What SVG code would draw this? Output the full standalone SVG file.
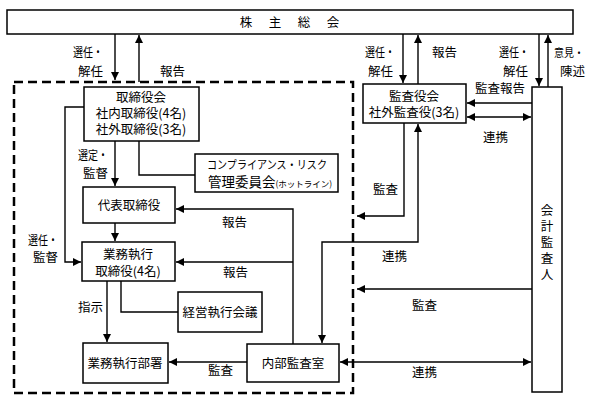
<svg xmlns="http://www.w3.org/2000/svg" width="589" height="404" viewBox="0 0 589 404">
<style>
text{font-family:"Noto Sans CJK JP","Noto Sans CJK SC",sans-serif;fill:#000}
.b{fill:#fff;stroke:#000;stroke-width:1.5}
.t{font-size:12.5px;text-anchor:middle}
.l{font-size:12.5px}
.c{fill:none;stroke:#000;stroke-width:1.4}
</style>
<defs>
<marker id="a" markerUnits="userSpaceOnUse" markerWidth="9" markerHeight="9" refX="8" refY="4" orient="auto-start-reverse">
<path d="M0,0 L8,4 L0,8 z" fill="#000"/>
</marker>
</defs>
<rect x="14" y="82" width="339" height="311" fill="none" stroke="#000" stroke-width="2.5" stroke-dasharray="9,5"/>
<g id="connectors" class="c">
<path d="M115,34 V80" marker-end="url(#a)"/>
<path d="M139,82 V35" marker-end="url(#a)"/>
<path d="M403,34 V83" marker-end="url(#a)"/>
<path d="M418,84 V35" marker-end="url(#a)"/>
<path d="M539,34 V86" marker-end="url(#a)"/>
<path d="M548,87 V35" marker-end="url(#a)"/>
<path d="M532,103 H467" marker-end="url(#a)"/>
<path d="M467,117 H531" marker-start="url(#a)" marker-end="url(#a)"/>
<path d="M84,107 H65 V262 H81" marker-end="url(#a)"/>
<path d="M115,141 V186" marker-end="url(#a)"/>
<path d="M139,141 V175 H195"/>
<path d="M115,223 V241" marker-end="url(#a)"/>
<path d="M293,344 V209 H176" marker-end="url(#a)"/>
<path d="M293,262 H176" marker-end="url(#a)"/>
<path d="M121,281 V312 H178"/>
<path d="M107,281 V342" marker-end="url(#a)"/>
<path d="M247,362 H169" marker-end="url(#a)"/>
<path d="M418,124 V242 H322 V343" marker-start="url(#a)" marker-end="url(#a)"/>
<path d="M404,123 V216 H357" marker-end="url(#a)"/>
<path d="M532,289 H357" marker-end="url(#a)"/>
<path d="M340,362 H531" marker-start="url(#a)" marker-end="url(#a)"/>
</g>
<g id="shareholders">
<rect class="b" x="7" y="10" width="566" height="24"/>
<text class="t" font-size="14" y="27"><tspan x="246">株</tspan><tspan x="275">主</tspan><tspan x="304">総</tspan><tspan x="333">会</tspan></text>
</g>
<g id="board">
<rect class="b" x="84" y="87" width="115" height="54"/>
<text class="t" x="141" y="102">取締役会</text>
<text class="t" x="141" y="118">社内取締役(4名)</text>
<text class="t" x="141" y="134">社外取締役(3名)</text>
</g>
<g id="compliance">
<rect class="b" x="195" y="154" width="143" height="38"/>
<text x="207" y="169" font-size="11.5" textLength="120" lengthAdjust="spacingAndGlyphs">コンプライアンス・リスク</text>
<text x="208" y="187"><tspan font-size="13.5">管理委員会</tspan><tspan font-size="8.5">(ホットライン)</tspan></text>
</g>
<g id="ceo">
<rect class="b" x="83" y="187" width="92" height="36"/>
<text class="t" x="129" y="210">代表取締役</text>
</g>
<g id="exec">
<rect class="b" x="82" y="242" width="93" height="39"/>
<text class="t" x="128" y="259">業務執行</text>
<text class="t" x="128" y="276">取締役(4名)</text>
</g>
<g id="mgmt">
<rect class="b" x="178" y="292" width="84" height="40"/>
<text class="t" x="220" y="317">経営執行会議</text>
</g>
<g id="dept">
<rect class="b" x="83" y="343" width="85" height="40"/>
<text class="t" x="125" y="368">業務執行部署</text>
</g>
<g id="internal">
<rect class="b" x="247" y="344" width="92" height="38"/>
<text class="t" x="293" y="368">内部監査室</text>
</g>
<g id="auditboard">
<rect class="b" x="363" y="84" width="103" height="39"/>
<text class="t" x="414" y="101">監査役会</text>
<text class="t" x="414" y="117">社外監査役(3名)</text>
</g>
<g id="accountant">
<rect class="b" x="532" y="87" width="30" height="305"/>
<text class="t" font-size="13"><tspan x="547" y="215">会</tspan><tspan x="547" y="231">計</tspan><tspan x="547" y="247">監</tspan><tspan x="547" y="263">査</tspan><tspan x="547" y="279">人</tspan></text>
</g>
<g id="labels" class="l">
<text x="73" y="57" textLength="30" lengthAdjust="spacingAndGlyphs">選任・</text><text x="78" y="76">解任</text>
<text x="160" y="76">報告</text>
<text x="365" y="57" textLength="30" lengthAdjust="spacingAndGlyphs">選任・</text><text x="368" y="76">解任</text>
<text x="432" y="57">報告</text>
<text x="499" y="57" textLength="30" lengthAdjust="spacingAndGlyphs">選任・</text><text x="503" y="76">解任</text>
<text x="554" y="57" font-size="11.5" textLength="30" lengthAdjust="spacingAndGlyphs">意見・</text><text x="560" y="76">陳述</text>
<text x="475" y="93">監査報告</text>
<text x="483" y="142">連携</text>
<text x="78" y="160" textLength="30" lengthAdjust="spacingAndGlyphs">選定・</text><text x="83" y="178">監督</text>
<text x="28" y="245" textLength="30" lengthAdjust="spacingAndGlyphs">選任・</text><text x="33" y="262">監督</text>
<text x="222" y="227">報告</text>
<text x="223" y="277">報告</text>
<text x="78" y="312">指示</text>
<text x="208" y="375">監査</text>
<text x="373" y="194">監査</text>
<text x="382" y="261">連携</text>
<text x="412" y="310">監査</text>
<text x="412" y="377">連携</text>
</g>
</svg>
